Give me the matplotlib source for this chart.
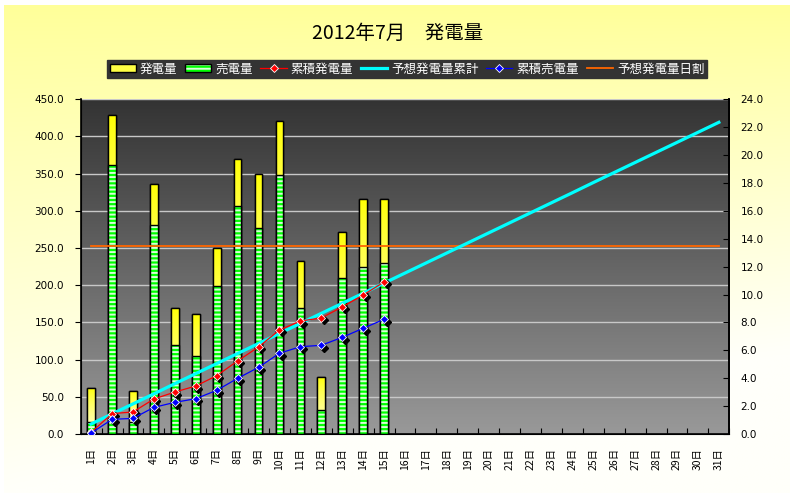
import numpy as np
import matplotlib
matplotlib.use('Agg')
import matplotlib.pyplot as plt
from matplotlib.patches import Patch
from matplotlib.lines import Line2D
from matplotlib.legend_handler import HandlerTuple
from matplotlib.colors import LinearSegmentedColormap
import matplotlib.transforms as mtransforms

plt.rcParams['font.family'] = ['Noto Sans CJK JP', 'DejaVu Sans']
plt.rcParams['hatch.linewidth'] = 1.4

# ---------------- data ----------------
title = '2012年7月　発電量'
days = [f'{d}日' for d in range(1, 32)]
generation = [61.4, 428.5, 57.4, 335.7, 169.0, 160.9, 249.7, 369.3, 349.2, 420.4,
              232.2, 76.2, 271.2, 315.6, 315.6]           # 発電量
sold = [15.7, 361.3, 15.7, 280.6, 119.2, 104.4, 198.6, 306.1, 276.6, 347.8,
        169.0, 31.8, 209.3, 224.1, 229.9]                 # 売電量
cum_gen = [0.12, 1.46, 1.58, 2.51, 3.01, 3.44, 4.18, 5.24, 6.24, 7.46,
           8.10, 8.32, 9.11, 9.97, 10.90]                 # 累積発電量
cum_sold = [0.07, 1.05, 1.12, 1.91, 2.27, 2.53, 3.13, 3.99, 4.78, 5.79,
            6.26, 6.36, 6.93, 7.58, 8.22]                 # 累積売電量
forecast_cum = [0.72, 1.44, 2.16, 2.88, 3.61, 4.33, 5.05, 5.77, 6.49, 7.21,
                7.93, 8.65, 9.37, 10.09, 10.82, 11.54, 12.26, 12.98, 13.70, 14.42,
                15.14, 15.86, 16.58, 17.30, 18.03, 18.75, 19.47, 20.19, 20.91, 21.63,
                22.35]                                    # 予想発電量累計
forecast_daily = [252.4] * 31                             # 予想発電量日割
left_ticks = [0, 50, 100, 150, 200, 250, 300, 350, 400, 450]
right_ticks = [0, 2, 4, 6, 8, 10, 12, 14, 16, 18, 20, 22, 24]

W, H = 796, 498
fig = plt.figure(figsize=(W / 100, H / 100), dpi=100, facecolor='white')

# ---------------- outer background gradient ----------------
bg = fig.add_axes([4 / W, 1 - 493 / H, 786 / W, 488 / H], zorder=-10)
yy, xx = np.mgrid[0:1:200j, 0:1:300j]
t = np.clip(yy * (1.0 + 0.4 * xx), 0, 1) ** 0.9
img = np.zeros((200, 300, 3))
img[..., 0] = 1.0
img[..., 1] = 1.0
img[..., 2] = (153 + (250 - 153) * t) / 255
bg.imshow(img, aspect='auto', extent=(0, 1, 0, 1), origin='upper', interpolation='bilinear')
bg.set_axis_off()

# ---------------- plot area ----------------
rect = [80.7 / W, 1 - 434 / H, 648.6 / W, 334.7 / H]
pa = fig.add_axes(rect, zorder=0)
cm = LinearSegmentedColormap.from_list('g', ['#999999', '#333333'])
pa.imshow(np.linspace(0, 1, 256).reshape(-1, 1), aspect='auto', cmap=cm,
          origin='lower', extent=(0, 1, 0, 1))
pa.set_axis_off()

ax = fig.add_axes(rect, zorder=1)
ax.set_facecolor('none')
x_all = np.arange(len(days))
x15 = np.arange(len(generation))
bw = 0.37

ybars = ax.bar(x15, generation, width=bw, color='#FFFF00', edgecolor='black',
               linewidth=1.0, zorder=2)
# vertical gradient inside yellow bars
for b in ybars:
    bx, by = b.get_x(), b.get_y()
    bwid, bh = b.get_width(), b.get_height()
    tt = np.linspace(0, 1, 100).reshape(-1, 1)  # 0 top -> 1 bottom
    gimg = np.zeros((100, 1, 3))
    gimg[..., 0] = 1.0
    gimg[..., 1] = 1.0
    gimg[..., 2] = (210 * tt ** 0.7) / 255
    im = ax.imshow(gimg, aspect='auto', extent=(bx, bx + bwid, by, by + bh),
                   origin='upper', zorder=2.1, interpolation='bilinear')
    im.set_clip_path(b)
ax.bar(x15, generation, width=bw, fill=False, edgecolor='black', linewidth=1.0, zorder=2.2)

ax.bar(x15, sold, width=bw, color='#00FF00', edgecolor='#D8FFD8', hatch='----',
       linewidth=0, zorder=3)
ax.bar(x15, sold, width=bw, fill=False, edgecolor='black', linewidth=1.0, zorder=3.1)

ax.plot(x_all, forecast_daily, color='#FF6600', lw=1.3, zorder=5)

ax.set_xlim(-0.5, len(days) - 0.5)
ax.set_ylim(0, 450)
ax.set_yticks(left_ticks)
ax.set_yticklabels([f'{v:.1f}' for v in left_ticks], fontsize=7.5, family='DejaVu Sans')
ax.yaxis.grid(True, color='#C8C8C8', lw=1.0)
ax.set_axisbelow(True)
ax.tick_params(axis='y', direction='out', length=4, width=0.8, pad=8)
ax.set_xticks(x_all)
ax.set_xticklabels(days, rotation=90, fontsize=7.5, va='top', ha='center')
ax.set_xticks(np.arange(-0.5, len(days)), minor=True)
ax.tick_params(axis='x', which='major', length=0, pad=10)
ax.tick_params(axis='x', which='minor', direction='in', length=4, width=0.8)
for s in ['left', 'bottom', 'right']:
    ax.spines[s].set_color('black')
    ax.spines[s].set_linewidth(1.2)
ax.spines['top'].set_visible(False)

# ---------------- right axis lines ----------------
ax2 = ax.twinx()
ax2.set_zorder(2)
ax2.set_facecolor('none')
ax2.set_ylim(0, 24)
ax2.set_yticks(right_ticks)
ax2.set_yticklabels([f'{v:.1f}' for v in right_ticks], fontsize=7.5, family='DejaVu Sans')
ax2.tick_params(axis='y', direction='in', length=4, width=0.8, pad=8)
ax2.spines['top'].set_visible(False)
ax2.spines['right'].set_linewidth(1.2)

ax2.plot(x_all, forecast_cum, color='#00FFFF', lw=2.3, zorder=2)
shadow = mtransforms.offset_copy(ax2.transData, fig=fig, x=2.5, y=-2.5, units='dots')
ax2.plot(x15, cum_gen, ls='none', marker='D', ms=4.2, color='black', transform=shadow, zorder=3)
ax2.plot(x15, cum_gen, color='red', lw=0.9, marker='D', ms=4.2, mfc='red',
         mec='white', mew=0.6, zorder=4)
ax2.plot(x15, cum_sold, ls='none', marker='D', ms=4.2, color='black', transform=shadow, zorder=3)
ax2.plot(x15, cum_sold, color='blue', lw=0.9, marker='D', ms=4.2, mfc='blue',
         mec='white', mew=0.6, zorder=5)
ax2.set_xlim(-0.5, len(days) - 0.5)

# ---------------- title & legend ----------------
fig.text(0.5, 1 - 33 / H, title, ha='center', va='center', fontsize=14)

h_gen = Patch(facecolor='#FFFF44', edgecolor='black', linewidth=1.0)
h_sold = (Patch(facecolor='#00FF00', edgecolor='#D8FFD8', hatch='----', linewidth=0),
          Patch(fill=False, edgecolor='black', linewidth=1.0))
h_cg = Line2D([], [], color='red', lw=0.9, marker='D', ms=4.2, mfc='red', mec='white', mew=0.6)
h_fc = Line2D([], [], color='#00FFFF', lw=2.3)
h_cs = Line2D([], [], color='blue', lw=0.9, marker='D', ms=4.2, mfc='blue', mec='white', mew=0.6)
h_fd = Line2D([], [], color='#FF6600', lw=1.3)
labels = ['発電量', '売電量', '累積発電量', '予想発電量累計', '累積売電量', '予想発電量日割']
leg = fig.legend([h_gen, h_sold, h_cg, h_fc, h_cs, h_fd], labels,
                 handler_map={tuple: HandlerTuple(ndivide=1)},
                 loc='center', bbox_to_anchor=(407 / W, 1 - 69 / H), ncol=6,
                 fontsize=9, frameon=True, fancybox=False, framealpha=1,
                 facecolor='#333333', edgecolor='#333333', handlelength=2.1,
                 handleheight=0.6, handletextpad=0.33, columnspacing=0.6,
                 borderpad=0.2, borderaxespad=0)
for txt in leg.get_texts():
    txt.set_color('white')

fig.savefig('out.png', dpi=100, facecolor='white')
